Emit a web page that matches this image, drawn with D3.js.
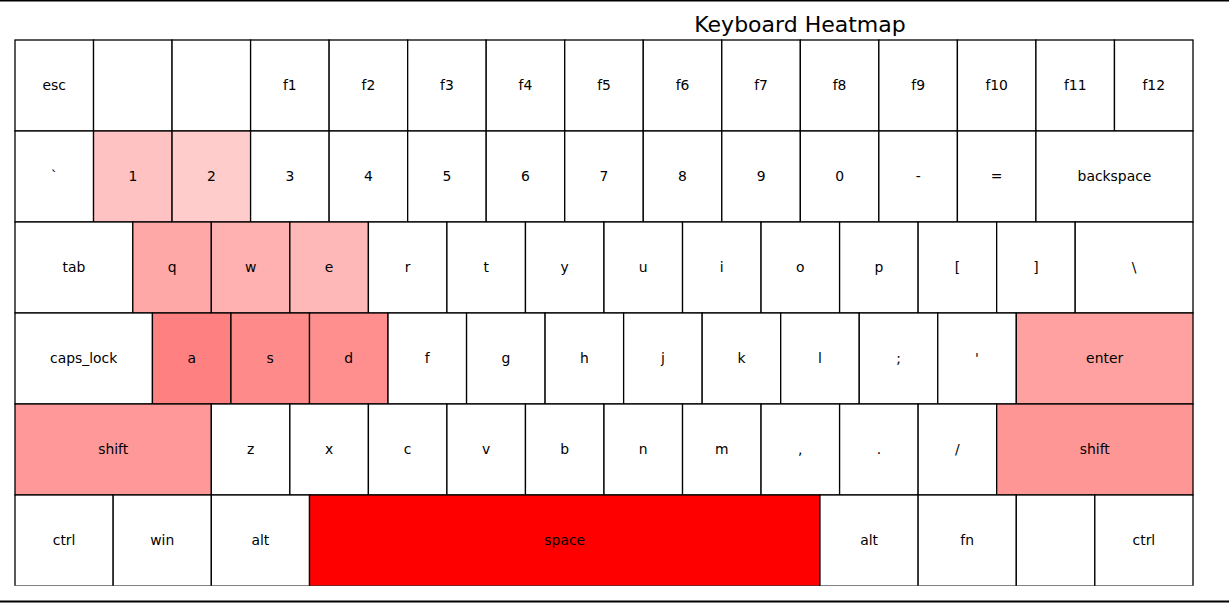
<!DOCTYPE html>
<html>
<head>
<meta charset="utf-8">
<script src="https://cdn.jsdelivr.net/npm/d3@7"></script>
<style>
html,body{margin:0;padding:0;background:#fff;}
svg{display:block;}
text{font-family:"DejaVu Sans",sans-serif;}
</style>
</head>
<body>
<svg id="chart" width="1229" height="603"></svg>
<script>
// Key rows: labels and widths (in key units)
const row1Keys = ["esc","","","f1","f2","f3","f4","f5","f6","f7","f8","f9","f10","f11","f12"];
const row1Widths = [1,1,1,1,1,1,1,1,1,1,1,1,1,1,1];
const row2Keys = ["`","1","2","3","4","5","6","7","8","9","0","-","=","backspace"];
const row2Widths = [1,1,1,1,1,1,1,1,1,1,1,1,1,2];
const row3Keys = ["tab","q","w","e","r","t","y","u","i","o","p","[","]","\\"];
const row3Widths = [1.5,1,1,1,1,1,1,1,1,1,1,1,1,1.5];
const row4Keys = ["caps_lock","a","s","d","f","g","h","j","k","l",";","'","enter"];
const row4Widths = [1.75,1,1,1,1,1,1,1,1,1,1,1,2.25];
const row5Keys = ["shift","z","x","c","v","b","n","m",",",".","/","shift"];
const row5Widths = [2.5,1,1,1,1,1,1,1,1,1,1,2.5];
const row6Keys = ["ctrl","win","alt","space","alt","fn","","ctrl"];
const row6Widths = [1.25,1.25,1.25,6.5,1.25,1.25,1,1.25];

// Press counts per key (row, index)
const row1Counts = [0,0,0,0,0,0,0,0,0,0,0,0,0,0,0];
const row2Counts = [0,24,20,0,0,0,0,0,0,0,0,0,0,0];
const row3Counts = [0,34,31,28,0,0,0,0,0,0,0,0,0,0];
const row4Counts = [0,50,46,44,0,0,0,0,0,0,0,0,37];
const row5Counts = [40,0,0,0,0,0,0,0,0,0,0,41];
const row6Counts = [0,0,0,100,0,0,0,0];

const title = "Keyboard Heatmap";

const rows = [
  {keys: row1Keys, widths: row1Widths, counts: row1Counts},
  {keys: row2Keys, widths: row2Widths, counts: row2Counts},
  {keys: row3Keys, widths: row3Widths, counts: row3Counts},
  {keys: row4Keys, widths: row4Widths, counts: row4Counts},
  {keys: row5Keys, widths: row5Widths, counts: row5Counts},
  {keys: row6Keys, widths: row6Widths, counts: row6Counts}
];

const cells = [];
rows.forEach((r, ri) => {
  let acc = 0;
  r.keys.forEach((k, i) => {
    cells.push({row: ri, x0: acc, x1: acc + r.widths[i], label: k, count: r.counts[i]});
    acc += r.widths[i];
  });
});

const svg = d3.select("#chart");
const W = 1229, H = 603;
const mLeft = 15, mRight = 1193, mTop = 40, mBottom = 586;

const x = d3.scaleLinear().domain([0, 15]).range([mLeft, mRight]);
const y = d3.scaleLinear().domain([0, 6]).range([mTop, mBottom]);
const maxCount = d3.max(cells, d => d.count);
const color = d3.scaleLinear().domain([0, maxCount]).range(["#ffffff", "#ff0000"]).interpolate(d3.interpolateRgb);

svg.append("defs").append("clipPath").attr("id", "clip")
  .append("rect").attr("x", 0).attr("y", mTop - 2).attr("width", W).attr("height", mBottom - 0.3 - (mTop - 2));

const g = svg.append("g").attr("clip-path", "url(#clip)");

g.selectAll("rect.key").data(cells).join("rect")
  .attr("class", "key")
  .attr("x", d => x(d.x0))
  .attr("y", d => y(d.row))
  .attr("width", d => x(d.x1) - x(d.x0))
  .attr("height", d => y(d.row + 1) - y(d.row))
  .attr("fill", d => color(d.count))
  .attr("stroke", "#000")
  .attr("stroke-width", 1.3);

g.selectAll("text.lbl").data(cells).join("text")
  .attr("class", "lbl")
  .attr("x", d => (x(d.x0) + x(d.x1)) / 2)
  .attr("y", d => (y(d.row) + y(d.row + 1)) / 2 - 0.5)
  .attr("text-anchor", "middle")
  .attr("dominant-baseline", "central")
  .attr("font-size", "13.9px")
  .attr("fill", "#000")
  .text(d => d.label);

svg.append("text")
  .attr("x", 800)
  .attr("y", 32)
  .attr("text-anchor", "middle")
  .attr("font-size", "22px")
  .attr("fill", "#000")
  .text(title);

svg.append("line").attr("x1", 0).attr("x2", W).attr("y1", 0.75).attr("y2", 0.75)
  .attr("stroke", "#000").attr("stroke-width", 1.5);
svg.append("line").attr("x1", 0).attr("x2", W).attr("y1", 601.5).attr("y2", 601.5)
  .attr("stroke", "#000").attr("stroke-width", 2);
</script>
</body>
</html>
